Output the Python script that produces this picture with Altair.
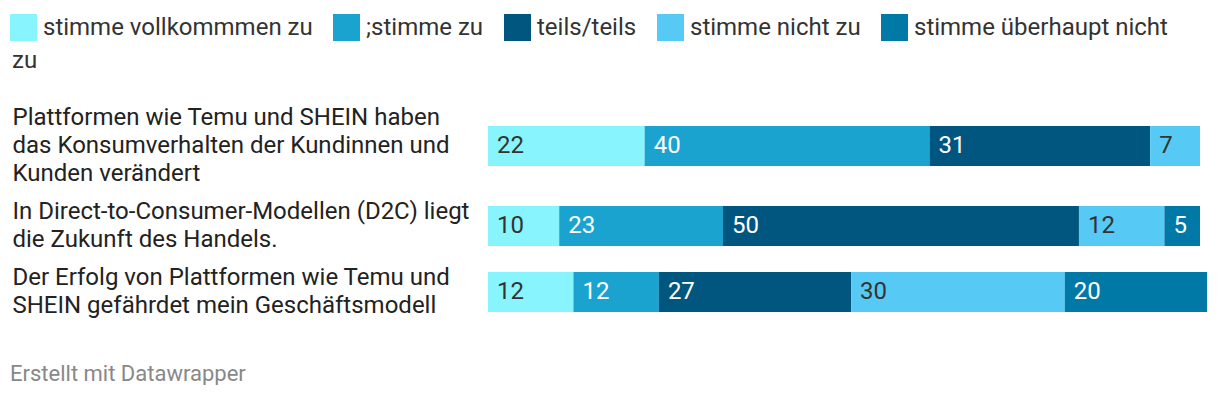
import altair as alt
import pandas as pd

statements = [
    "Plattformen wie Temu und SHEIN haben\ndas Konsumverhalten der Kundinnen und\nKunden verändert",
    "In Direct-to-Consumer-Modellen (D2C) liegt\ndie Zukunft des Handels.",
    "Der Erfolg von Plattformen wie Temu und\nSHEIN gefährdet mein Geschäftsmodell",
]
categories = [
    "stimme vollkommmen zu",
    ";stimme zu",
    "teils/teils",
    "stimme nicht zu",
    "stimme überhaupt nicht zu",
]
colors = ["#88f4fd", "#1aa3cf", "#00567e", "#56c9f5", "#0079a6"]
label_colors = ["#333333", "#ffffff", "#ffffff", "#333333", "#ffffff"]
values = [
    [22, 40, 31, 7, 0],
    [10, 23, 50, 12, 5],
    [12, 12, 27, 30, 20],
]

records = []
for r, (s, vals) in enumerate(zip(statements, values)):
    for k, (c, v) in enumerate(zip(categories, vals)):
        if v > 0:
            records.append({"row": r, "statement": s, "category": c, "order": k,
                            "value": v, "tcolor": label_colors[k]})
df = pd.DataFrame(records)

FONT = "Roboto"
LINE_H = 28


def make_row(i, height, pad_outer, title=None):
    n_lines = statements[i].count("\n") + 1
    base = alt.Chart(df).transform_filter(alt.datum.row == i).transform_stack(
        stack="value", groupby=["statement"], sort=[alt.SortField("order")], as_=["x0", "x1"]
    )
    y = alt.Y(
        "statement:N",
        title=None,
        scale=alt.Scale(paddingInner=0, paddingOuter=pad_outer),
        axis=alt.Axis(
            domain=False, ticks=False, tickSize=0, grid=False,
            labelAlign="left", labelBaseline="middle", labelPadding=476, labelLimit=470,
            labelFont=FONT, labelFontSize=24, labelColor="#222222", labelLineHeight=LINE_H,
            labelOffset=-(n_lines - 1) * LINE_H / 2,
            labelExpr="split(datum.label, '\\n')",
        ),
    )
    x = alt.X("x0:Q", scale=alt.Scale(domain=[0, 100], nice=False, zero=True), axis=None)
    bars = base.mark_bar().encode(
        x=x,
        x2="x1:Q",
        y=y,
        color=alt.Color(
            "category:N",
            scale=alt.Scale(domain=categories, range=colors),
            legend=alt.Legend(
                title=None,
                labelExpr="datum.label == 'stimme überhaupt nicht zu' ? 'stimme überhaupt nicht' : datum.label",
            ),
        ),
    )
    text = base.mark_text(align="left", baseline="middle", dx=9, font=FONT, fontSize=24).encode(
        x=x,
        y=y,
        text="value:Q",
        fill=alt.Fill("tcolor:N", scale=None),
    )
    layer = alt.layer(bars, text).properties(width=712, height=height)
    if title is not None:
        layer = layer.properties(title=title)
    return layer


row_title = alt.TitleParams(
    "zu", anchor="start", frame="bounds", font=FONT, fontSize=24, fontWeight="normal",
    color="#333333", offset=26,
)

chart = alt.vconcat(
    make_row(0, 94, 0.675, row_title),
    make_row(1, 66, 0.325),
    make_row(2, 66, 0.325),
    spacing=0,
    title=alt.TitleParams(
        "Erstellt mit Datawrapper", orient="bottom", anchor="start", frame="bounds",
        font=FONT, fontSize=22, fontWeight="normal", color="#888888", offset=39,
    ),
).resolve_scale(color="shared").properties(
    padding={"left": 2, "top": 6, "right": 0, "bottom": 0}
).configure(font=FONT).configure_view(stroke=None).configure_legend(
    orient="none", legendX=-478, legendY=-85, direction="horizontal",
    symbolType="square", symbolSize=729, symbolStrokeWidth=0,
    labelFont=FONT, labelFontSize=24, labelColor="#333333", columnPadding=20,
    labelOffset=6, labelLimit=400, padding=0,
)

chart.save("out.html", embed_options={"renderer": "svg", "actions": False})
